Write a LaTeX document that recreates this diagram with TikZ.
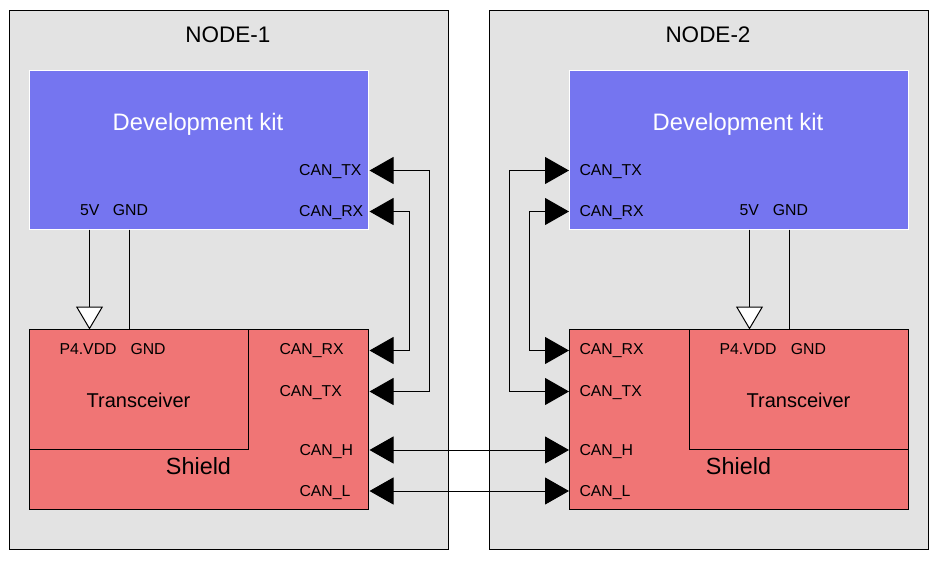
\documentclass[tikz,border=0pt]{standalone}
\usepackage{fontspec}
\setmainfont{Liberation Sans}
\usetikzlibrary{arrows.meta}
\definecolor{framegray}{RGB}{227,227,227}
\definecolor{kitblue}{RGB}{117,117,240}
\definecolor{shieldred}{RGB}{240,117,117}
\tikzset{
  box/.style={rectangle, anchor=north west, outer sep=0pt, inner sep=0pt, line width=1pt},
  framebox/.style={box, draw=black, fill=framegray, minimum width=439pt, minimum height=539pt},
  kitbox/.style={box, draw=white, fill=kitblue, minimum width=339pt, minimum height=159pt},
  shieldbox/.style={box, draw=black, fill=shieldred, minimum width=339pt, minimum height=180pt},
  trbox/.style={box, draw=black, minimum width=219pt, minimum height=120pt},
  lbl/.style={inner sep=0pt, anchor=base west, font=\fontsize{15.8}{16}\selectfont},
  title/.style={inner sep=0pt, anchor=base, font=\fontsize{22.5}{23}\selectfont},
  kittext/.style={inner sep=0pt, anchor=base, text=white, font=\fontsize{23.8}{24}\selectfont},
  trtext/.style={inner sep=0pt, anchor=base, font=\fontsize{20}{20}\selectfont},
  shtext/.style={inner sep=0pt, anchor=base, font=\fontsize{23.4}{24}\selectfont},
  sig/.style={line width=1pt, {Triangle[length=24pt,width=27pt]}-{Triangle[length=24pt,width=27pt]}},
  pwr/.style={line width=1pt, -{Triangle[length=23pt,width=27pt,fill=white]}},
  gnd/.style={line width=1pt},
}
\begin{document}
\begin{tikzpicture}[x=1pt,y=-1pt]
\useasboundingbox[fill=white] (0,0) rectangle (940,562);

% frames
\node[framebox] (f1) at (9.5,10.5) {};
\node[framebox] (f2) at (489.5,10.5) {};
\node[title] (t1) at (228,42.7) {NODE-1};
\node[title] (t2) at (708,42.7) {NODE-2};

% development kits
\node[kitbox] (dk1) at (29.5,70.5) {};
\node[kitbox] (dk2) at (569.5,70.5) {};
\node[kittext] (dk1t) at (198,130.7) {Development kit};
\node[kittext] (dk2t) at (738,130.7) {Development kit};

% shields and transceivers
\node[shieldbox] (sh1) at (29.5,329.5) {};
\node[trbox] (tr1) at (29.5,329.5) {};
\node[shieldbox] (sh2) at (569.5,329.5) {};
\node[trbox] (tr2) at (689.5,329.5) {};
\node[trtext] (tr1t) at (138.5,407.7) {Transceiver};
\node[trtext] (tr2t) at (798.5,407.7) {Transceiver};
\node[shtext] (sh1t) at (198.5,474.3) {Shield};
\node[shtext] (sh2t) at (738.5,474.3) {Shield};

% labels node 1
\node[lbl] (l1a) at (299,175.7) {CAN\_TX};
\node[lbl] (l1b) at (299,216.9) {CAN\_RX};
\node[lbl] (l1c) at (80,215) {5V};
\node[lbl] (l1d) at (112.7,215) {GND};
\node[lbl] (l1e) at (59.3,354.7) {P4.VDD};
\node[lbl] (l1f) at (130.3,354.7) {GND};
\node[lbl] (l1g) at (279.3,354.7) {CAN\_RX};
\node[lbl] (l1h) at (279.3,396) {CAN\_TX};
\node[lbl] (l1i) at (299.3,455) {CAN\_H};
\node[lbl] (l1j) at (299.3,496.7) {CAN\_L};

% labels node 2
\node[lbl] (l2a) at (579.3,175.7) {CAN\_TX};
\node[lbl] (l2b) at (579.3,216.9) {CAN\_RX};
\node[lbl] (l2c) at (739.3,215) {5V};
\node[lbl] (l2d) at (772.7,215) {GND};
\node[lbl] (l2e) at (719.3,354.7) {P4.VDD};
\node[lbl] (l2f) at (790.7,354.7) {GND};
\node[lbl] (l2g) at (579.3,354.7) {CAN\_RX};
\node[lbl] (l2h) at (579.3,396) {CAN\_TX};
\node[lbl] (l2i) at (579.3,455) {CAN\_H};
\node[lbl] (l2j) at (579.3,496.7) {CAN\_L};

% ports
\coordinate (dk1tx) at (369.5,170.5);
\coordinate (dk1rx) at (369.5,211.5);
\coordinate (sh1rx) at (369.5,350.5);
\coordinate (sh1tx) at (369.5,391.5);
\coordinate (sh1h)  at (369.5,450);
\coordinate (sh1l)  at (369.5,491);
\coordinate (dk2tx) at (569,170.5);
\coordinate (dk2rx) at (569,211.5);
\coordinate (sh2rx) at (569,350.5);
\coordinate (sh2tx) at (569,391.5);
\coordinate (sh2h)  at (569,450);
\coordinate (sh2l)  at (569,491);
\coordinate (dk1v) at (89.5,229.5);
\coordinate (dk1g) at (129.5,229.5);
\coordinate (tr1v) at (89.5,329.5);
\coordinate (tr1g) at (129.5,329.5);
\coordinate (dk2v) at (749.5,229.5);
\coordinate (dk2g) at (789.5,229.5);
\coordinate (tr2v) at (749.5,329.5);
\coordinate (tr2g) at (789.5,329.5);

% signal connectors
\draw[sig] (dk1tx) -- ++(60,0) |- (sh1tx);
\draw[sig] (dk1rx) -- ++(40,0) |- (sh1rx);
\draw[sig] (dk2tx) -- ++(-60,0) |- (sh2tx);
\draw[sig] (dk2rx) -- ++(-40,0) |- (sh2rx);
\draw[sig] (sh1h) -- (sh2h);
\draw[sig] (sh1l) -- (sh2l);

% power
\draw[pwr] (dk1v) -- (tr1v);
\draw[gnd] (dk1g) -- (tr1g);
\draw[pwr] (dk2v) -- (tr2v);
\draw[gnd] (dk2g) -- (tr2g);
\end{tikzpicture}
\end{document}
